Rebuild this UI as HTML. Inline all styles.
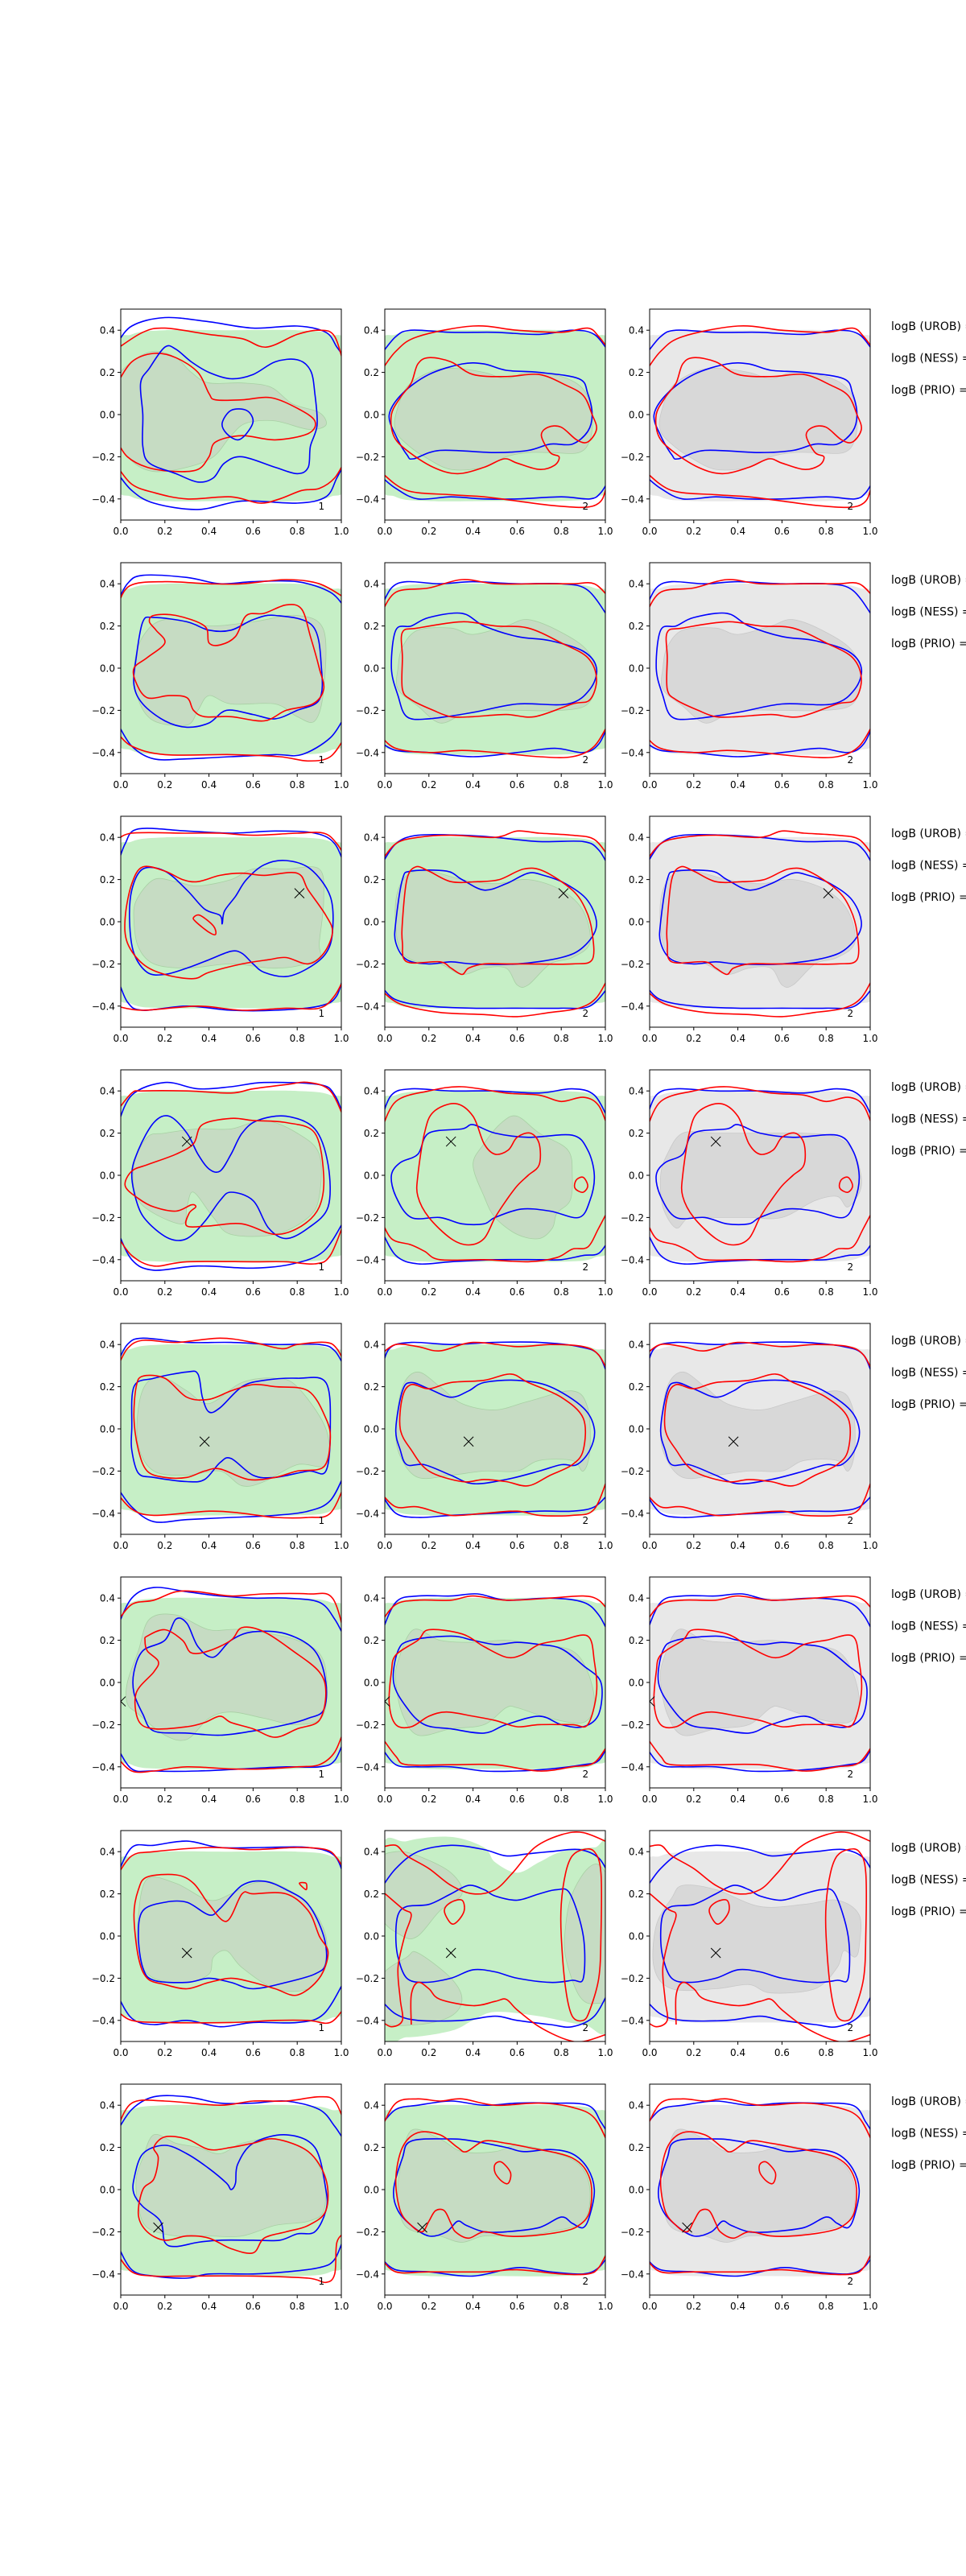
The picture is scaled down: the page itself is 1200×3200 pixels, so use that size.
<!DOCTYPE html>
<html><head><meta charset="utf-8"><style>
html,body{margin:0;padding:0;background:#fff;}
svg{display:block;}
text{font-family:"DejaVu Sans","Liberation Sans",sans-serif;}
</style></head><body>
<svg id="fig" width="1200" height="3200" viewBox="0 0 1200 3200" xmlns="http://www.w3.org/2000/svg"></svg>
<script>
// ---- data ----
const xTicks=[0,0.2,0.4,0.6,0.8,1.0];
const yTicks=[-0.4,-0.2,0,0.2,0.4];
const legendLabels=["logB (UROB) =","logB (NESS) =","logB (PRIO) ="];
const panelNumbers=["1","2","2"];
const rowMarkers=[null,null,[0.81,0.135],[0.3,0.16],[0.38,-0.06],[0.0,-0.09],[0.3,-0.08],[0.17,-0.18]];
// lines: [color, closed, flat points]
const c1Lines=[
[["b",0,[-0.02,0.33,0.05,0.42,0.2,0.46,0.4,0.44,0.6,0.41,0.8,0.42,0.93,0.39,0.98,0.32,1.02,0.26]],
 ["r",0,[-0.02,0.31,0.1,0.39,0.2,0.41,0.4,0.38,0.55,0.36,0.66,0.32,0.8,0.38,0.9,0.4,0.97,0.37,1.02,0.2]],
 ["b",0,[-0.02,-0.27,0.05,-0.36,0.15,-0.42,0.35,-0.45,0.55,-0.41,0.8,-0.42,0.93,-0.39,0.98,-0.3,1.02,-0.22]],
 ["r",0,[-0.02,-0.24,0.05,-0.33,0.15,-0.37,0.3,-0.4,0.5,-0.39,0.63,-0.42,0.72,-0.4,0.82,-0.36,0.9,-0.35,0.97,-0.3,1.02,-0.21]],
 ["r",0,[-0.02,0.14,0.05,0.25,0.15,0.29,0.25,0.27,0.35,0.2,0.4,0.1,0.43,0.07,0.55,0.07,0.68,0.08,0.8,0.03,0.88,-0.03,0.85,-0.09,0.7,-0.12,0.55,-0.1,0.43,-0.13,0.4,-0.2,0.35,-0.26,0.25,-0.27,0.12,-0.25,0.03,-0.2,-0.02,-0.12]],
 ["b",1,[0.13,0.22,0.2,0.32,0.25,0.31,0.32,0.25,0.4,0.2,0.5,0.17,0.6,0.19,0.7,0.25,0.8,0.26,0.86,0.21,0.88,0.1,0.89,-0.05,0.86,-0.15,0.85,-0.25,0.8,-0.28,0.7,-0.25,0.55,-0.2,0.47,-0.23,0.42,-0.3,0.35,-0.32,0.25,-0.28,0.13,-0.23,0.1,-0.15,0.1,0,0.09,0.15]],
 ["b",1,[0.46,-0.04,0.5,0.02,0.57,0.02,0.6,-0.03,0.57,-0.09,0.53,-0.12,0.48,-0.09]]],
[["b",0,[-0.02,0.3,0.03,0.4,0.1,0.44,0.3,0.43,0.45,0.4,0.6,0.41,0.8,0.41,0.95,0.36,1.02,0.28]],
 ["r",0,[-0.02,0.28,0.04,0.39,0.2,0.41,0.4,0.4,0.55,0.4,0.75,0.42,0.9,0.4,1.02,0.33]],
 ["b",0,[-0.02,-0.25,0.05,-0.37,0.15,-0.43,0.3,-0.43,0.5,-0.42,0.7,-0.41,0.82,-0.41,0.95,-0.33,1.02,-0.22]],
 ["r",0,[-0.02,-0.3,0.05,-0.37,0.2,-0.41,0.5,-0.41,0.72,-0.42,0.85,-0.44,0.95,-0.42,1.02,-0.32]],
 ["b",1,[0.07,0.05,0.1,0.22,0.15,0.24,0.3,0.22,0.4,0.18,0.5,0.18,0.6,0.23,0.7,0.25,0.87,0.2,0.91,0.0,0.9,-0.15,0.8,-0.2,0.7,-0.24,0.6,-0.22,0.48,-0.2,0.4,-0.26,0.3,-0.28,0.2,-0.25,0.1,-0.17,0.06,-0.08]],
 ["r",1,[0.15,0.25,0.25,0.25,0.38,0.2,0.4,0.12,0.45,0.11,0.52,0.15,0.57,0.25,0.65,0.26,0.75,0.3,0.82,0.28,0.86,0.15,0.9,0.0,0.92,-0.1,0.87,-0.17,0.75,-0.2,0.65,-0.25,0.5,-0.23,0.38,-0.23,0.33,-0.2,0.3,-0.14,0.22,-0.13,0.12,-0.14,0.07,-0.07,0.06,0.0,0.12,0.05,0.2,0.12,0.16,0.18,0.13,0.22]]],
[["b",0,[-0.02,0.25,0.02,0.37,0.08,0.44,0.3,0.43,0.5,0.42,0.7,0.43,0.88,0.42,0.97,0.37,1.02,0.25]],
 ["r",0,[-0.02,0.38,0.05,0.42,0.3,0.42,0.45,0.42,0.6,0.41,0.8,0.42,0.92,0.42,0.98,0.37,1.02,0.3]],
 ["b",0,[-0.02,-0.25,0.03,-0.38,0.1,-0.42,0.3,-0.4,0.5,-0.42,0.7,-0.42,0.9,-0.4,0.98,-0.35,1.02,-0.2]],
 ["r",0,[-0.02,-0.4,0.1,-0.42,0.35,-0.4,0.55,-0.42,0.75,-0.41,0.9,-0.41,0.97,-0.35,1.02,-0.25]],
 ["b",1,[0.04,0.0,0.05,0.15,0.1,0.25,0.2,0.24,0.3,0.15,0.38,0.06,0.45,0.03,0.46,-0.01,0.47,0.05,0.52,0.12,0.57,0.2,0.65,0.27,0.75,0.29,0.86,0.25,0.95,0.12,0.96,-0.05,0.93,-0.15,0.85,-0.22,0.75,-0.26,0.65,-0.24,0.6,-0.2,0.55,-0.15,0.5,-0.14,0.4,-0.18,0.3,-0.22,0.2,-0.25,0.12,-0.24,0.06,-0.15]],
 ["r",1,[0.02,0.02,0.05,0.18,0.1,0.26,0.2,0.24,0.28,0.2,0.35,0.19,0.45,0.22,0.55,0.23,0.65,0.22,0.8,0.23,0.85,0.15,0.93,0.03,0.96,-0.05,0.92,-0.15,0.85,-0.2,0.75,-0.17,0.67,-0.18,0.55,-0.2,0.4,-0.24,0.33,-0.27,0.2,-0.25,0.1,-0.2,0.03,-0.1]],
 ["r",1,[0.33,0.02,0.36,0.03,0.42,-0.02,0.43,-0.06,0.4,-0.05,0.34,0.0]]],
[["b",0,[-0.02,0.22,0.05,0.38,0.2,0.44,0.35,0.41,0.5,0.42,0.65,0.44,0.9,0.43,0.97,0.38,1.02,0.25]],
 ["r",0,[-0.02,0.3,0.05,0.39,0.1,0.4,0.3,0.4,0.5,0.39,0.6,0.41,0.75,0.43,0.85,0.44,0.95,0.4,1.02,0.25]],
 ["b",0,[-0.02,-0.25,0.05,-0.4,0.15,-0.45,0.35,-0.43,0.6,-0.44,0.78,-0.42,0.92,-0.36,1.02,-0.2]],
 ["r",0,[-0.02,-0.28,0.05,-0.38,0.15,-0.43,0.3,-0.41,0.6,-0.41,0.75,-0.41,0.88,-0.42,0.95,-0.38,1.02,-0.2]],
 ["b",1,[0.05,0.0,0.08,0.12,0.15,0.25,0.22,0.28,0.3,0.2,0.35,0.1,0.4,0.03,0.45,0.02,0.5,0.1,0.55,0.2,0.62,0.26,0.75,0.28,0.88,0.22,0.94,0.05,0.94,-0.15,0.85,-0.25,0.75,-0.3,0.67,-0.25,0.6,-0.12,0.5,-0.08,0.45,-0.12,0.38,-0.22,0.3,-0.3,0.22,-0.3,0.13,-0.23,0.08,-0.15]],
 ["r",1,[0.02,-0.05,0.05,0.02,0.12,0.05,0.25,0.1,0.33,0.15,0.37,0.24,0.5,0.27,0.6,0.26,0.75,0.25,0.88,0.2,0.92,0.0,0.9,-0.15,0.82,-0.24,0.7,-0.28,0.55,-0.23,0.4,-0.24,0.3,-0.24,0.31,-0.18,0.34,-0.15,0.32,-0.14,0.25,-0.17,0.15,-0.15,0.08,-0.11]]],
[["b",0,[-0.02,0.3,0.03,0.4,0.1,0.43,0.3,0.41,0.5,0.41,0.7,0.4,0.9,0.4,0.97,0.37,1.02,0.28]],
 ["r",0,[-0.02,0.28,0.03,0.38,0.1,0.42,0.25,0.41,0.45,0.43,0.6,0.41,0.73,0.38,0.8,0.4,0.93,0.41,0.98,0.38,1.02,0.3]],
 ["b",0,[-0.02,-0.27,0.05,-0.37,0.15,-0.44,0.3,-0.43,0.5,-0.42,0.7,-0.41,0.85,-0.39,0.95,-0.34,1.02,-0.2]],
 ["r",0,[-0.02,-0.3,0.05,-0.38,0.15,-0.41,0.4,-0.39,0.55,-0.4,0.7,-0.42,0.85,-0.42,0.95,-0.4,1.02,-0.25]],
 ["b",1,[0.05,0.0,0.06,0.2,0.15,0.24,0.3,0.27,0.35,0.26,0.37,0.15,0.4,0.08,0.45,0.1,0.55,0.2,0.65,0.23,0.8,0.24,0.93,0.22,0.95,0.0,0.93,-0.2,0.85,-0.2,0.7,-0.23,0.6,-0.22,0.5,-0.14,0.45,-0.16,0.38,-0.24,0.3,-0.25,0.15,-0.23,0.08,-0.21,0.05,-0.1]],
 ["r",1,[0.1,0.25,0.2,0.24,0.3,0.15,0.4,0.14,0.5,0.18,0.6,0.21,0.7,0.2,0.85,0.18,0.93,0.05,0.95,-0.05,0.92,-0.18,0.8,-0.2,0.7,-0.23,0.58,-0.24,0.45,-0.19,0.38,-0.2,0.3,-0.23,0.2,-0.23,0.12,-0.2,0.08,-0.1,0.06,0.05,0.07,0.2]]],
[["b",0,[-0.02,0.25,0.05,0.4,0.15,0.45,0.3,0.43,0.45,0.41,0.6,0.4,0.75,0.4,0.9,0.38,0.97,0.3,1.02,0.2]],
 ["r",0,[-0.02,0.28,0.05,0.37,0.15,0.39,0.25,0.43,0.35,0.43,0.5,0.41,0.65,0.42,0.85,0.42,0.96,0.4,1.02,0.2]],
 ["b",0,[-0.02,-0.3,0.05,-0.41,0.15,-0.42,0.35,-0.42,0.55,-0.41,0.75,-0.4,0.9,-0.4,0.97,-0.37,1.02,-0.25]],
 ["r",0,[-0.02,-0.35,0.05,-0.42,0.15,-0.42,0.3,-0.4,0.5,-0.41,0.65,-0.41,0.8,-0.4,0.9,-0.39,0.97,-0.33,1.02,-0.2]],
 ["b",1,[0.06,0.05,0.1,0.15,0.2,0.2,0.25,0.3,0.3,0.28,0.35,0.17,0.42,0.12,0.5,0.2,0.6,0.24,0.75,0.23,0.88,0.15,0.93,0.0,0.92,-0.13,0.85,-0.17,0.75,-0.2,0.6,-0.23,0.45,-0.25,0.3,-0.24,0.15,-0.23,0.1,-0.15,0.06,-0.05]],
 ["r",1,[0.12,0.22,0.2,0.25,0.28,0.2,0.32,0.14,0.4,0.15,0.5,0.2,0.55,0.26,0.65,0.24,0.78,0.15,0.9,0.05,0.93,-0.05,0.9,-0.18,0.8,-0.22,0.7,-0.26,0.6,-0.22,0.5,-0.19,0.45,-0.16,0.38,-0.19,0.3,-0.21,0.15,-0.22,0.08,-0.18,0.07,-0.05,0.15,0.05,0.17,0.1,0.12,0.15,0.11,0.2]]],
[["b",0,[-0.02,0.28,0.05,0.42,0.15,0.43,0.3,0.45,0.45,0.42,0.65,0.42,0.85,0.42,0.97,0.38,1.02,0.25]],
 ["r",0,[-0.02,0.28,0.05,0.38,0.15,0.4,0.4,0.42,0.6,0.41,0.8,0.42,0.93,0.41,0.98,0.37,1.02,0.3]],
 ["b",0,[-0.02,-0.27,0.05,-0.39,0.15,-0.42,0.3,-0.4,0.45,-0.43,0.6,-0.41,0.8,-0.41,0.92,-0.37,1.02,-0.2]],
 ["r",0,[-0.02,-0.35,0.05,-0.4,0.2,-0.41,0.5,-0.41,0.7,-0.4,0.85,-0.4,0.95,-0.41,1.02,-0.33]],
 ["b",1,[0.1,0.12,0.2,0.16,0.3,0.16,0.4,0.1,0.45,0.13,0.55,0.24,0.65,0.26,0.75,0.22,0.85,0.15,0.92,0.0,0.93,-0.13,0.88,-0.18,0.75,-0.22,0.6,-0.25,0.5,-0.22,0.4,-0.2,0.3,-0.22,0.15,-0.21,0.1,-0.15,0.08,0.0]],
 ["r",1,[0.12,0.28,0.25,0.29,0.33,0.25,0.4,0.15,0.48,0.07,0.55,0.2,0.6,0.2,0.75,0.2,0.85,0.12,0.9,0.0,0.94,-0.08,0.9,-0.2,0.8,-0.28,0.7,-0.25,0.6,-0.22,0.5,-0.2,0.4,-0.22,0.3,-0.25,0.2,-0.23,0.12,-0.2,0.08,-0.1,0.06,0.1,0.08,0.22]],
 ["r",1,[0.81,0.25,0.84,0.25,0.84,0.22]]],
[["b",0,[-0.02,0.27,0.05,0.38,0.15,0.44,0.3,0.44,0.45,0.41,0.6,0.41,0.75,0.42,0.9,0.38,0.97,0.3,1.02,0.22]],
 ["r",0,[-0.02,0.28,0.05,0.41,0.2,0.42,0.45,0.4,0.6,0.42,0.75,0.42,0.9,0.44,0.97,0.42,1.02,0.3]],
 ["b",0,[-0.02,-0.25,0.05,-0.38,0.15,-0.41,0.3,-0.42,0.4,-0.4,0.6,-0.4,0.75,-0.39,0.9,-0.37,0.97,-0.33,1.02,-0.2]],
 ["r",0,[-0.02,-0.3,0.05,-0.39,0.15,-0.41,0.3,-0.41,0.6,-0.41,0.85,-0.42,0.93,-0.44,0.97,-0.4,0.98,-0.25,1.02,-0.2]],
 ["b",1,[0.06,0.05,0.1,0.17,0.2,0.21,0.3,0.17,0.4,0.1,0.48,0.03,0.5,0.0,0.52,0.03,0.53,0.12,0.6,0.22,0.75,0.26,0.88,0.2,0.93,0.0,0.93,-0.1,0.88,-0.2,0.8,-0.21,0.72,-0.24,0.6,-0.24,0.45,-0.24,0.35,-0.25,0.25,-0.27,0.2,-0.25,0.18,-0.15,0.1,-0.08,0.06,-0.02]],
 ["r",1,[0.15,0.2,0.2,0.25,0.3,0.24,0.4,0.19,0.5,0.2,0.6,0.22,0.7,0.24,0.85,0.18,0.93,0.05,0.93,-0.1,0.85,-0.17,0.75,-0.2,0.65,-0.23,0.6,-0.3,0.5,-0.28,0.4,-0.23,0.3,-0.22,0.2,-0.24,0.12,-0.2,0.08,-0.12,0.1,0.0,0.15,0.05,0.17,0.15]]]
];
const c23Lines=[
[["b",0,[-0.02,0.28,0.05,0.37,0.12,0.4,0.3,0.39,0.5,0.39,0.7,0.38,0.85,0.4,0.95,0.38,1.02,0.29]],
 ["r",0,[-0.02,0.2,0.05,0.3,0.15,0.37,0.4,0.42,0.6,0.4,0.8,0.39,0.92,0.41,0.97,0.37,1.02,0.3]],
 ["b",0,[-0.02,-0.29,0.05,-0.35,0.15,-0.4,0.3,-0.39,0.45,-0.4,0.6,-0.4,0.8,-0.39,0.93,-0.4,0.98,-0.37,1.02,-0.3]],
 ["r",0,[-0.02,-0.27,0.1,-0.36,0.3,-0.38,0.45,-0.39,0.6,-0.41,0.75,-0.43,0.9,-0.44,0.97,-0.42,1.0,-0.36,1.02,-0.22]],
 ["b",1,[0.02,0,0.05,-0.1,0.1,-0.19,0.13,-0.21,0.25,-0.17,0.5,-0.18,0.65,-0.17,0.75,-0.14,0.85,-0.14,0.92,-0.08,0.94,0,0.92,0.1,0.88,0.17,0.7,0.2,0.55,0.21,0.45,0.24,0.35,0.24,0.2,0.19,0.08,0.1]],
 ["r",1,[0.07,0.08,0.12,0.15,0.15,0.24,0.2,0.27,0.3,0.25,0.4,0.19,0.55,0.18,0.7,0.19,0.82,0.14,0.9,0.09,0.94,0.0,0.96,-0.07,0.92,-0.13,0.87,-0.12,0.8,-0.06,0.74,-0.06,0.71,-0.1,0.75,-0.18,0.79,-0.2,0.77,-0.24,0.7,-0.26,0.6,-0.23,0.54,-0.21,0.45,-0.25,0.33,-0.28,0.22,-0.25,0.1,-0.17,0.04,-0.1,0.03,0.0]]],
[["b",0,[-0.02,0.28,0.03,0.38,0.1,0.41,0.25,0.4,0.4,0.41,0.6,0.4,0.8,0.4,0.92,0.37,1.02,0.23]],
 ["r",0,[-0.02,0.25,0.05,0.36,0.2,0.38,0.35,0.42,0.5,0.4,0.7,0.4,0.85,0.4,0.95,0.4,1.02,0.33]],
 ["b",0,[-0.02,-0.35,0.05,-0.39,0.2,-0.4,0.4,-0.42,0.6,-0.4,0.77,-0.38,0.9,-0.4,0.97,-0.36,1.02,-0.25]],
 ["r",0,[-0.02,-0.32,0.05,-0.38,0.2,-0.4,0.35,-0.39,0.5,-0.4,0.7,-0.42,0.85,-0.42,0.95,-0.37,1.02,-0.25]],
 ["b",1,[0.03,0.0,0.05,0.18,0.12,0.2,0.2,0.24,0.35,0.26,0.45,0.2,0.6,0.15,0.75,0.13,0.9,0.08,0.96,0.0,0.93,-0.1,0.83,-0.17,0.6,-0.17,0.4,-0.21,0.2,-0.24,0.1,-0.23,0.06,-0.13]],
 ["r",1,[0.08,0.17,0.15,0.19,0.35,0.22,0.5,0.2,0.65,0.19,0.8,0.12,0.92,0.05,0.96,-0.05,0.93,-0.15,0.85,-0.17,0.68,-0.23,0.55,-0.22,0.4,-0.23,0.3,-0.23,0.22,-0.2,0.12,-0.15,0.08,-0.1,0.08,0.05]]],
[["b",0,[-0.02,0.26,0.05,0.37,0.15,0.41,0.35,0.41,0.5,0.4,0.7,0.38,0.9,0.38,0.97,0.34,1.02,0.25]],
 ["r",0,[-0.02,0.28,0.05,0.37,0.15,0.4,0.3,0.41,0.5,0.4,0.6,0.43,0.7,0.42,0.85,0.41,0.95,0.39,1.02,0.3]],
 ["b",0,[-0.02,-0.3,0.05,-0.37,0.2,-0.4,0.4,-0.41,0.6,-0.41,0.8,-0.41,0.93,-0.4,1.02,-0.3]],
 ["r",0,[-0.02,-0.32,0.07,-0.39,0.25,-0.43,0.45,-0.44,0.6,-0.45,0.75,-0.43,0.88,-0.41,0.96,-0.36,1.02,-0.25]],
 ["b",1,[0.05,0.0,0.08,0.2,0.12,0.24,0.28,0.24,0.35,0.2,0.45,0.15,0.55,0.18,0.65,0.23,0.72,0.22,0.82,0.18,0.92,0.1,0.96,-0.02,0.9,-0.12,0.8,-0.17,0.6,-0.2,0.4,-0.2,0.3,-0.19,0.2,-0.2,0.1,-0.18,0.05,-0.1]],
 ["r",1,[0.08,0.0,0.1,0.2,0.14,0.26,0.2,0.24,0.3,0.19,0.42,0.19,0.52,0.2,0.63,0.25,0.72,0.24,0.85,0.15,0.91,0.06,0.94,-0.05,0.94,-0.18,0.85,-0.2,0.65,-0.2,0.55,-0.2,0.45,-0.2,0.38,-0.22,0.35,-0.25,0.3,-0.22,0.25,-0.19,0.1,-0.19,0.08,-0.1]]],
[["b",0,[-0.02,0.25,0.03,0.38,0.12,0.41,0.3,0.4,0.5,0.4,0.7,0.39,0.85,0.41,0.95,0.38,1.02,0.25]],
 ["r",0,[-0.02,0.2,0.05,0.35,0.2,0.4,0.35,0.42,0.55,0.39,0.7,0.38,0.8,0.35,0.9,0.37,0.97,0.33,1.02,0.2]],
 ["b",0,[-0.02,-0.25,0.05,-0.38,0.15,-0.42,0.3,-0.41,0.5,-0.4,0.7,-0.4,0.8,-0.4,0.9,-0.38,0.97,-0.37,1.02,-0.3]],
 ["r",0,[-0.02,-0.2,0.03,-0.3,0.12,-0.33,0.18,-0.36,0.25,-0.4,0.45,-0.4,0.65,-0.41,0.78,-0.39,0.85,-0.35,0.92,-0.34,0.97,-0.25,1.02,-0.15]],
 ["b",1,[0.03,0.0,0.07,0.06,0.15,0.1,0.2,0.2,0.35,0.22,0.4,0.24,0.5,0.2,0.65,0.18,0.85,0.19,0.92,0.12,0.95,0.0,0.93,-0.12,0.88,-0.2,0.75,-0.17,0.62,-0.16,0.5,-0.2,0.45,-0.23,0.35,-0.23,0.25,-0.2,0.12,-0.2,0.05,-0.1]],
 ["r",1,[0.15,0.0,0.18,0.2,0.22,0.3,0.32,0.34,0.4,0.28,0.45,0.15,0.5,0.1,0.56,0.12,0.6,0.18,0.66,0.2,0.7,0.15,0.7,0.05,0.65,0.0,0.6,-0.05,0.55,-0.12,0.5,-0.2,0.45,-0.3,0.38,-0.33,0.3,-0.3,0.2,-0.2,0.15,-0.1]],
 ["r",1,[0.87,-0.02,0.9,-0.01,0.92,-0.05,0.9,-0.08,0.87,-0.07,0.86,-0.05]]],
[["b",0,[-0.02,0.25,0.02,0.38,0.12,0.41,0.3,0.4,0.5,0.41,0.7,0.41,0.88,0.39,0.97,0.35,1.02,0.22]],
 ["r",0,[-0.02,0.35,0.05,0.4,0.15,0.39,0.25,0.37,0.4,0.41,0.6,0.39,0.75,0.4,0.9,0.39,0.97,0.35,1.02,0.25]],
 ["b",0,[-0.02,-0.3,0.05,-0.4,0.15,-0.42,0.3,-0.41,0.5,-0.4,0.7,-0.39,0.85,-0.39,0.95,-0.37,1.02,-0.3]],
 ["r",0,[-0.02,-0.3,0.05,-0.37,0.15,-0.37,0.3,-0.41,0.45,-0.4,0.6,-0.39,0.7,-0.41,0.85,-0.41,0.95,-0.38,1.02,-0.2]],
 ["b",1,[0.05,0.0,0.08,0.18,0.12,0.22,0.2,0.19,0.3,0.15,0.38,0.18,0.45,0.22,0.6,0.23,0.75,0.2,0.9,0.1,0.95,0.0,0.93,-0.1,0.87,-0.17,0.8,-0.17,0.7,-0.2,0.55,-0.24,0.4,-0.26,0.3,-0.22,0.18,-0.17,0.1,-0.17,0.07,-0.1]],
 ["r",1,[0.08,0.15,0.12,0.21,0.2,0.19,0.3,0.22,0.45,0.23,0.57,0.26,0.65,0.22,0.8,0.15,0.9,0.05,0.9,-0.1,0.85,-0.17,0.75,-0.22,0.65,-0.27,0.55,-0.25,0.45,-0.24,0.35,-0.25,0.2,-0.2,0.12,-0.1,0.07,0.0]]],
[["b",0,[-0.02,0.22,0.05,0.38,0.15,0.41,0.3,0.41,0.42,0.42,0.55,0.39,0.75,0.4,0.9,0.38,0.97,0.32,1.02,0.22]],
 ["r",0,[-0.02,0.28,0.05,0.37,0.15,0.39,0.3,0.39,0.4,0.41,0.55,0.39,0.75,0.4,0.9,0.41,0.97,0.39,1.02,0.33]],
 ["b",0,[-0.02,-0.3,0.05,-0.39,0.15,-0.4,0.3,-0.4,0.45,-0.42,0.6,-0.42,0.75,-0.41,0.9,-0.39,0.97,-0.37,1.02,-0.28]],
 ["r",0,[-0.02,-0.25,0.05,-0.35,0.1,-0.39,0.3,-0.39,0.5,-0.39,0.7,-0.42,0.85,-0.4,0.95,-0.38,1.02,-0.28]],
 ["b",1,[0.04,0.0,0.06,0.15,0.12,0.2,0.3,0.22,0.4,0.2,0.5,0.18,0.6,0.19,0.7,0.18,0.8,0.16,0.9,0.08,0.98,0.0,0.97,-0.15,0.9,-0.21,0.8,-0.2,0.7,-0.16,0.55,-0.2,0.45,-0.24,0.3,-0.22,0.18,-0.2,0.1,-0.12]],
 ["r",1,[0.03,0.05,0.05,0.13,0.15,0.2,0.2,0.25,0.35,0.23,0.45,0.17,0.55,0.12,0.62,0.13,0.7,0.18,0.8,0.2,0.92,0.22,0.95,0.1,0.96,-0.05,0.92,-0.2,0.85,-0.2,0.7,-0.2,0.6,-0.21,0.5,-0.18,0.4,-0.16,0.28,-0.14,0.2,-0.16,0.12,-0.21,0.05,-0.2,0.02,-0.1]]],
[["b",0,[-0.02,0.22,0.05,0.32,0.15,0.4,0.3,0.43,0.45,0.41,0.55,0.38,0.65,0.39,0.75,0.4,0.88,0.41,0.97,0.37,1.02,0.28]],
 ["b",0,[-0.02,-0.3,0.05,-0.37,0.15,-0.4,0.35,-0.4,0.5,-0.38,0.6,-0.4,0.75,-0.42,0.85,-0.43,0.95,-0.38,1.02,-0.25]],
 ["b",1,[0.05,0.0,0.06,0.1,0.1,0.14,0.2,0.15,0.3,0.2,0.38,0.24,0.45,0.22,0.5,0.19,0.6,0.17,0.7,0.2,0.78,0.22,0.84,0.2,0.9,0.0,0.9,-0.2,0.85,-0.21,0.75,-0.22,0.6,-0.2,0.5,-0.17,0.4,-0.16,0.3,-0.2,0.18,-0.22,0.1,-0.2,0.06,-0.1]],
 ["r",0,[-0.02,0.42,0.05,0.43,0.1,0.38,0.2,0.32,0.3,0.24,0.4,0.2,0.5,0.22,0.58,0.3,0.68,0.42,0.8,0.48,0.9,0.49,1.02,0.44]],
 ["r",0,[-0.02,0.22,0.08,0.13,0.12,0.1,0.09,0.0,0.06,-0.15,0.07,-0.3,0.08,-0.4,0.03,-0.43,-0.02,-0.4]],
 ["r",0,[0.12,-0.42,0.12,-0.28,0.15,-0.22,0.2,-0.25,0.25,-0.3,0.4,-0.33,0.5,-0.31,0.55,-0.3,0.6,-0.35,0.7,-0.43,0.82,-0.49,0.9,-0.5,1.02,-0.46]],
 ["r",1,[0.82,0.3,0.85,0.38,0.9,0.41,0.95,0.4,0.98,0.3,0.98,0.0,0.97,-0.2,0.93,-0.35,0.9,-0.4,0.85,-0.38,0.82,-0.25,0.8,0.0,0.8,0.15]],
 ["r",1,[0.27,0.12,0.3,0.16,0.35,0.17,0.36,0.12,0.33,0.07,0.3,0.06]]],
[["b",0,[-0.02,0.3,0.05,0.38,0.15,0.4,0.3,0.42,0.45,0.4,0.6,0.41,0.75,0.41,0.92,0.4,0.98,0.32,1.02,0.25]],
 ["r",0,[-0.02,0.28,0.05,0.41,0.15,0.43,0.25,0.42,0.35,0.43,0.5,0.4,0.7,0.41,0.85,0.39,0.95,0.34,1.02,0.2]],
 ["b",0,[-0.02,-0.32,0.05,-0.38,0.2,-0.39,0.4,-0.41,0.6,-0.37,0.75,-0.39,0.9,-0.4,0.97,-0.37,1.02,-0.3]],
 ["r",0,[-0.02,-0.32,0.05,-0.39,0.2,-0.39,0.45,-0.39,0.6,-0.38,0.8,-0.4,0.92,-0.4,0.97,-0.37,1.02,-0.27]],
 ["b",1,[0.04,0.0,0.08,0.15,0.12,0.23,0.3,0.24,0.4,0.23,0.55,0.2,0.63,0.18,0.75,0.19,0.85,0.17,0.92,0.1,0.95,0.0,0.93,-0.12,0.9,-0.18,0.85,-0.16,0.8,-0.13,0.7,-0.18,0.55,-0.2,0.45,-0.2,0.37,-0.17,0.33,-0.15,0.28,-0.2,0.2,-0.22,0.12,-0.17,0.06,-0.1]],
 ["r",1,[0.05,0.05,0.08,0.2,0.15,0.27,0.25,0.26,0.33,0.2,0.37,0.18,0.45,0.23,0.55,0.22,0.65,0.2,0.85,0.15,0.93,0.05,0.93,-0.1,0.88,-0.17,0.8,-0.2,0.65,-0.22,0.55,-0.22,0.45,-0.2,0.38,-0.23,0.32,-0.2,0.3,-0.16,0.27,-0.1,0.23,-0.1,0.2,-0.15,0.17,-0.2,0.12,-0.17,0.07,-0.1]],
 ["r",1,[0.5,0.12,0.53,0.13,0.57,0.08,0.56,0.03,0.53,0.04,0.5,0.08]]]
];
const outerFill=[-0.02,0.3,0.05,0.38,0.2,0.4,0.5,0.4,0.8,0.4,0.95,0.38,1.02,0.3,1.02,-0.3,0.95,-0.39,0.8,-0.41,0.5,-0.41,0.2,-0.41,0.05,-0.39,-0.02,-0.3];
const outerFillRow7c2=[-0.02,0.38,0.1,0.45,0.3,0.47,0.45,0.42,0.5,0.35,0.6,0.3,0.7,0.35,0.8,0.4,0.95,0.42,1.02,0.4,1.02,-0.4,0.9,-0.42,0.7,-0.38,0.5,-0.36,0.4,-0.4,0.3,-0.45,0.1,-0.48,-0.02,-0.45];
const c1InnerFill=[
[[-0.02,0.15,0.05,0.25,0.15,0.3,0.25,0.27,0.32,0.2,0.4,0.15,0.55,0.15,0.68,0.13,0.78,0.05,0.9,0.01,0.93,-0.05,0.85,-0.07,0.7,-0.03,0.57,-0.04,0.5,-0.1,0.42,-0.2,0.3,-0.25,0.15,-0.27,0.05,-0.22,-0.02,-0.1]],
[[0.1,0.15,0.2,0.23,0.4,0.2,0.6,0.22,0.8,0.25,0.92,0.18,0.92,-0.1,0.88,-0.25,0.8,-0.23,0.7,-0.17,0.5,-0.17,0.4,-0.13,0.35,-0.2,0.3,-0.27,0.15,-0.25,0.08,-0.15,0.06,0.0]],
[[0.07,0.1,0.15,0.2,0.25,0.19,0.35,0.17,0.5,0.2,0.6,0.25,0.75,0.25,0.9,0.25,0.92,0.1,0.9,-0.1,0.9,-0.17,0.8,-0.21,0.68,-0.22,0.5,-0.2,0.3,-0.22,0.15,-0.2,0.08,-0.12,0.06,0.0]],
[[0.06,0.05,0.12,0.18,0.2,0.2,0.35,0.22,0.5,0.22,0.65,0.26,0.8,0.2,0.9,0.1,0.9,-0.1,0.85,-0.2,0.7,-0.28,0.5,-0.28,0.42,-0.2,0.33,-0.08,0.3,-0.15,0.28,-0.23,0.15,-0.18,0.07,-0.1]],
[[0.08,0.1,0.12,0.22,0.2,0.24,0.3,0.18,0.4,0.12,0.55,0.22,0.7,0.24,0.8,0.2,0.93,0.0,0.93,-0.17,0.8,-0.17,0.65,-0.25,0.55,-0.27,0.45,-0.2,0.3,-0.22,0.15,-0.2,0.08,-0.08]],
[[0.03,0.0,0.08,0.15,0.13,0.3,0.25,0.32,0.4,0.25,0.55,0.25,0.8,0.2,0.92,0.1,0.92,-0.15,0.8,-0.2,0.65,-0.17,0.5,-0.14,0.4,-0.17,0.3,-0.27,0.2,-0.25,0.08,-0.15,0.03,-0.1]],
[[0.08,0.1,0.12,0.27,0.25,0.25,0.4,0.17,0.5,0.2,0.6,0.25,0.7,0.25,0.85,0.15,0.93,0.0,0.92,-0.15,0.85,-0.25,0.7,-0.25,0.55,-0.15,0.48,-0.07,0.42,-0.1,0.4,-0.18,0.3,-0.22,0.15,-0.2,0.08,-0.1]],
[[0.1,0.15,0.15,0.26,0.25,0.22,0.35,0.2,0.45,0.17,0.55,0.22,0.7,0.24,0.85,0.18,0.92,0.05,0.92,-0.1,0.85,-0.15,0.7,-0.17,0.55,-0.22,0.4,-0.22,0.25,-0.22,0.12,-0.18,0.08,-0.08,0.07,0.05]]
];
const c23InnerFill=[
[[0.05,0,0.1,0.13,0.2,0.2,0.3,0.22,0.45,0.2,0.55,0.17,0.65,0.2,0.8,0.18,0.9,0.12,0.94,0,0.93,-0.12,0.88,-0.18,0.75,-0.18,0.65,-0.18,0.55,-0.2,0.45,-0.25,0.3,-0.26,0.18,-0.2,0.1,-0.14,0.05,-0.08]],
[[0.08,0.1,0.15,0.18,0.3,0.19,0.4,0.16,0.55,0.2,0.65,0.23,0.8,0.17,0.92,0.08,0.96,-0.05,0.92,-0.17,0.8,-0.2,0.6,-0.2,0.45,-0.2,0.35,-0.22,0.25,-0.26,0.15,-0.18,0.06,-0.1,0.06,0.0]],
[[0.05,0.1,0.1,0.22,0.2,0.24,0.35,0.2,0.5,0.18,0.65,0.2,0.8,0.15,0.9,0.05,0.93,-0.1,0.85,-0.17,0.75,-0.2,0.65,-0.3,0.6,-0.3,0.55,-0.22,0.45,-0.22,0.35,-0.25,0.25,-0.2,0.12,-0.18,0.06,-0.1]],
[[0.4,0.05,0.45,0.15,0.53,0.25,0.6,0.28,0.7,0.2,0.83,0.12,0.85,0.0,0.84,-0.12,0.78,-0.18,0.76,-0.25,0.7,-0.3,0.6,-0.28,0.5,-0.2,0.45,-0.1]],
[[0.05,0.0,0.08,0.2,0.15,0.27,0.25,0.2,0.35,0.12,0.5,0.09,0.65,0.13,0.85,0.18,0.92,0.1,0.93,-0.1,0.9,-0.2,0.85,-0.15,0.7,-0.15,0.6,-0.2,0.45,-0.2,0.3,-0.22,0.15,-0.23,0.07,-0.13]],
[[0.06,0.1,0.13,0.25,0.25,0.2,0.4,0.19,0.55,0.2,0.7,0.18,0.85,0.15,0.92,0.05,0.95,-0.1,0.9,-0.19,0.75,-0.17,0.6,-0.12,0.55,-0.12,0.45,-0.2,0.3,-0.22,0.15,-0.25,0.08,-0.15,0.05,0.0]],
[[-0.02,0.35,0.05,0.4,0.15,0.38,0.3,0.3,0.35,0.2,0.25,0.12,0.15,0.0,0.08,0.0,-0.02,0.1],[-0.02,-0.2,0.1,-0.1,0.15,-0.08,0.3,-0.2,0.35,-0.3,0.3,-0.38,0.15,-0.42,-0.02,-0.4],[0.85,0.2,0.92,0.32,0.98,0.33,1.02,0.2,1.02,-0.25,0.95,-0.32,0.88,-0.28,0.82,-0.1,0.82,0.05]],
[[0.07,0.1,0.12,0.28,0.25,0.24,0.35,0.18,0.5,0.18,0.6,0.21,0.75,0.18,0.88,0.12,0.93,0.0,0.9,-0.15,0.75,-0.2,0.6,-0.22,0.45,-0.22,0.35,-0.25,0.25,-0.22,0.1,-0.18,0.06,-0.05]]
];
const c3InnerRow4=[0.05,0.0,0.08,0.1,0.15,0.2,0.3,0.2,0.5,0.2,0.7,0.2,0.85,0.18,0.93,0.1,0.96,-0.05,0.9,-0.15,0.85,-0.1,0.75,-0.12,0.6,-0.2,0.45,-0.2,0.3,-0.2,0.18,-0.2,0.12,-0.25,0.06,-0.15];
const c3InnerRow7=[0.1,0.18,0.15,0.24,0.3,0.22,0.5,0.14,0.7,0.15,0.85,0.17,0.95,0.1,0.95,-0.05,0.93,-0.1,0.88,-0.07,0.85,-0.15,0.75,-0.25,0.55,-0.27,0.45,-0.23,0.3,-0.25,0.1,-0.25,0.02,-0.15,0.03,0.05];

// ---- geometry ----
const colLeft=[150,478,807], W=274, H=262, rowTop0=384, rowStep=315;
const NS="http://www.w3.org/2000/svg";
const svg=document.getElementById('fig');
function el(tag,attrs,parent){const e=document.createElementNS(NS,tag);for(const k in attrs)e.setAttribute(k,attrs[k]);(parent||svg).appendChild(e);return e;}
function sx(c,x){return colLeft[c]+x*W;}
function sy(r,y){return rowTop0+r*rowStep+(0.5-y)*H;}
function pathD(c,r,flat,closed){
  const p=[];for(let i=0;i<flat.length;i+=2)p.push([sx(c,flat[i]),sy(r,flat[i+1])]);
  const n=p.length;const get=i=>closed?p[(i+n)%n]:p[Math.max(0,Math.min(n-1,i))];
  let d='M'+p[0][0].toFixed(1)+','+p[0][1].toFixed(1);
  const segs=closed?n:n-1;
  for(let i=0;i<segs;i++){
    const p0=get(i-1),p1=get(i),p2=get(i+1),p3=get(i+2);
    const c1=[p1[0]+(p2[0]-p0[0])/6,p1[1]+(p2[1]-p0[1])/6];
    const c2=[p2[0]-(p3[0]-p1[0])/6,p2[1]-(p3[1]-p1[1])/6];
    d+='C'+c1[0].toFixed(1)+','+c1[1].toFixed(1)+' '+c2[0].toFixed(1)+','+c2[1].toFixed(1)+' '+p2[0].toFixed(1)+','+p2[1].toFixed(1);
  }
  return d+(closed?'Z':'');
}
const defs=el('defs',{});
for(let r=0;r<8;r++){
  for(let c=0;c<3;c++){
    const cp=el('clipPath',{id:'cp'+r+'_'+c},defs);
    el('rect',{x:colLeft[c],y:rowTop0+r*rowStep,width:W,height:H},cp);
  }
}
for(let r=0;r<8;r++){
  const rowG=el('g',{});
  
  
  for(let c=0;c<3;c++){
    const g=el('g',{},rowG);
    
    
    const clip=el('g',{'clip-path':'url(#cp'+r+'_'+c+')'},g);
    const green=c<2;
    const of=(r===6&&c===1)?outerFillRow7c2:outerFill;
    const ofe=el('path',{d:pathD(c,r,of,1),fill:green?'#c6efc6':'#e8e8e8',stroke:'none'},clip);
    
    
    let inners=c===0?c1InnerFill[r]:c23InnerFill[r];
    if(c===2&&r===3)inners=[c3InnerRow4];
    if(c===2&&r===6)inners=[c3InnerRow7];
    for(const f of inners){
      const ie=el('path',{d:pathD(c,r,f,1),fill:green?'#c6dcc3':'#d8d8d8',stroke:green?'#a8d0a4':'#c8c8c8','stroke-width':0.8},clip);
      
      
    }
    const lines=c===0?c1Lines[r]:c23Lines[r];
    for(const ln of lines){
      const le=el('path',{d:pathD(c,r,ln[2],ln[1]===1),fill:'none',stroke:ln[0]==='r'?'#ff0000':'#0000ff','stroke-width':1.6,'stroke-linejoin':'round'},clip);
      
      
    }
    const m=rowMarkers[r];
    if(m){
      const mx=sx(c,m[0]),my=sy(r,m[1]);
      const mg=el('g',{stroke:'#000','stroke-width':1},clip);
      
      
      el('line',{x1:mx-6,y1:my-6,x2:mx+6,y2:my+6},mg);
      el('line',{x1:mx-6,y1:my+6,x2:mx+6,y2:my-6},mg);
    }
    const nt=el('text',{x:sx(c,0.91),y:sy(r,-0.45),'font-size':12,'text-anchor':'middle',fill:'#000'},g);
    nt.textContent=panelNumbers[c];
    
    
    const fr=el('rect',{x:colLeft[c],y:rowTop0+r*rowStep,width:W,height:H,fill:'none',stroke:'#000','stroke-width':1},g);
    
    
    const xa=el('g',{},g);
    
    
    for(const t of xTicks){
      const x=sx(c,t),yb=rowTop0+r*rowStep+H;
      el('line',{x1:x,y1:yb,x2:x,y2:yb+4,stroke:'#000','stroke-width':1},xa);
      const tx=el('text',{x:x,y:yb+18,'font-size':12,'text-anchor':'middle',fill:'#000'},xa);
      tx.textContent=t.toFixed(1);
      
      
    }
    const ya=el('g',{},g);
    
    
    for(const t of yTicks){
      const y=sy(r,t),xl=colLeft[c];
      el('line',{x1:xl-4,y1:y,x2:xl,y2:y,stroke:'#000','stroke-width':1},ya);
      const ty=el('text',{x:xl-7,y:y+4.5,'font-size':12,'text-anchor':'end',fill:'#000'},ya);
      ty.textContent=(t<0?'\u2212':'')+Math.abs(t).toFixed(1);
      
      
    }
  }
  for(let i=0;i<3;i++){
    const lt=el('text',{x:1107,y:rowTop0+r*rowStep+26+i*39.5,'font-size':14,fill:'#000'},rowG);
    lt.textContent=legendLabels[i];
    
    
  }
}
</script>
</body></html>
